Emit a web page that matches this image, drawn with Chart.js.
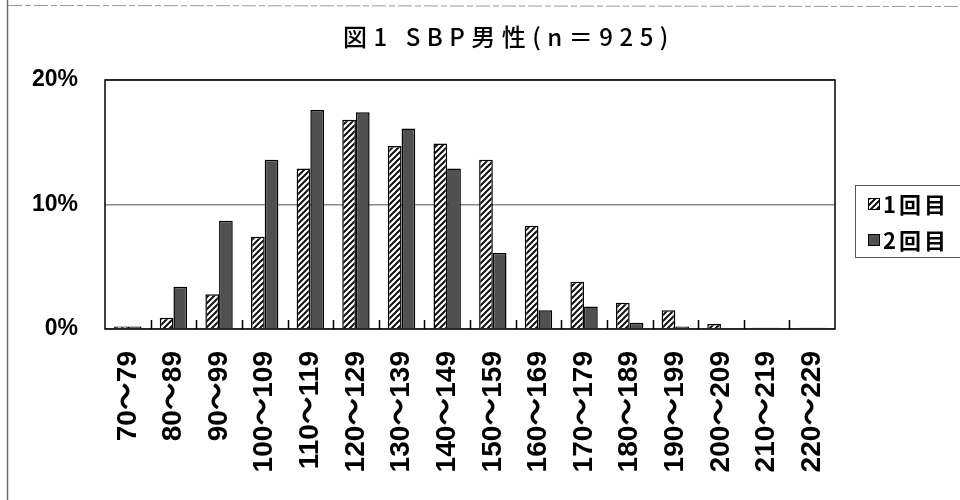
<!DOCTYPE html>
<html>
<head>
<meta charset="utf-8">
<script src="https://cdn.jsdelivr.net/npm/chart.js@4/dist/chart.umd.min.js"></script>
<style>
  html, body { margin: 0; padding: 0; background: #fff; }
  canvas { display: block; }
</style>
</head>
<body>
<canvas id="chart" width="960" height="500"></canvas>
<script>
// Systolic blood pressure distribution, men, first vs second measurement (%)
const chartTitle = '図1 SBP男性(n＝925)';
const categories = ['70〜79', '80〜89', '90〜99', '100〜109', '110〜119', '120〜129', '130〜139',
  '140〜149', '150〜159', '160〜169', '170〜179', '180〜189', '190〜199', '200〜209',
  '210〜219', '220〜229'];
const seriesNames = ['1回目', '2回目'];
const firstVisit = [0.2, 0.9, 2.8, 7.4, 12.9, 16.8, 14.7, 14.9, 13.6, 8.3, 3.8, 2.1, 1.5, 0.4, 0.1, 0.1];
const secondVisit = [0.2, 3.4, 8.7, 13.6, 17.6, 17.4, 16.1, 12.9, 6.1, 1.5, 1.8, 0.5, 0.2, 0.0, 0.1, 0.1];
const yTickValues = [0, 10, 20];

const canvas = document.getElementById('chart');
const ctx = canvas.getContext('2d');

// diagonal "///" hatch fill for the first measurement
function makeHatch(context) {
  const s = 6;
  const tile = document.createElement('canvas');
  tile.width = s; tile.height = s;
  const g = tile.getContext('2d');
  g.fillStyle = '#ffffff';
  g.fillRect(0, 0, s, s);
  g.strokeStyle = '#111111';
  g.lineWidth = 2;
  g.beginPath();
  g.moveTo(-1, s + 1); g.lineTo(s + 1, -1);
  g.moveTo(-s / 2 - 1, s / 2 + 1); g.lineTo(s / 2 + 1, -s / 2 - 1);
  g.moveTo(s / 2 - 1, s * 1.5 + 1); g.lineTo(s * 1.5 + 1, s / 2 - 1);
  g.stroke();
  return context.createPattern(tile, 'repeat');
}
const hatch = makeHatch(ctx);
const darkFill = '#505050';

const FONT_LATIN = '"Liberation Sans", "Noto Sans CJK JP", sans-serif';
const FONT_CJK = '"Noto Sans CJK JP", "Liberation Sans", sans-serif';

function withSpacing(c, px) {
  if ('letterSpacing' in c) c.letterSpacing = px + 'px';
}

// page frame, heading, plot border with inner tick marks, boxed legend
const decorations = {
  id: 'decorations',
  beforeDraw(chart) {
    const c = chart.ctx;
    c.save();
    c.strokeStyle = '#6e6e6e';
    c.lineWidth = 1.5;
    c.beginPath();
    c.moveTo(7.5, 0); c.lineTo(7.5, 500);
    c.stroke();
    c.setLineDash([14, 3, 6, 3]);
    c.strokeStyle = '#9a9a9a';
    c.lineWidth = 1;
    c.beginPath();
    c.moveTo(8, 5.5); c.lineTo(960, 6.5);
    c.stroke();
    c.restore();
  },
  afterDraw(chart) {
    const c = chart.ctx;
    const a = chart.chartArea;
    const xs = chart.scales.x;

    // heading
    c.save();
    c.fillStyle = '#000';
    c.font = '500 24px ' + FONT_CJK;
    c.textAlign = 'center';
    c.textBaseline = 'middle';
    withSpacing(c, 6.5);
    c.fillText(chartTitle, 509, 37);
    c.restore();

    // plot border
    c.save();
    c.strokeStyle = '#000';
    c.lineWidth = 1.5;
    c.strokeRect(a.left, a.top, a.right - a.left, a.bottom - a.top);
    // inward tick marks between categories
    c.beginPath();
    for (let i = 1; i < categories.length; i++) {
      const px = Math.round((xs.getPixelForValue(i - 1) + xs.getPixelForValue(i)) / 2) + 0.5;
      c.moveTo(px, a.bottom);
      c.lineTo(px, a.bottom - 9);
    }
    c.stroke();
    c.restore();

    // legend
    c.save();
    c.strokeStyle = '#555';
    c.lineWidth = 1;
    c.strokeRect(855.5, 185.5, 130, 72);
    const rows = [204, 240];
    chart.data.datasets.forEach((ds, i) => {
      const cy = rows[i];
      c.fillStyle = ds.backgroundColor;
      c.fillRect(868, cy - 6, 12, 12);
      c.strokeStyle = '#000';
      c.lineWidth = 1;
      c.strokeRect(868.5, cy - 5.5, 11, 11);
      c.fillStyle = '#000';
      c.font = 'bold 22px ' + FONT_CJK;
      c.textAlign = 'left';
      c.textBaseline = 'middle';
      withSpacing(c, 3);
      c.fillText(ds.label, 883, cy + 1);
      withSpacing(c, 0);
    });
    c.restore();
  }
};

new Chart(ctx, {
  type: 'bar',
  data: {
    labels: categories,
    datasets: [
      { label: seriesNames[0], data: firstVisit, backgroundColor: hatch,
        borderColor: '#000', borderWidth: 1.5 },
      { label: seriesNames[1], data: secondVisit, backgroundColor: darkFill,
        borderColor: '#000', borderWidth: 1.5 }
    ]
  },
  options: {
    responsive: false,
    animation: false,
    layout: { padding: { top: 80, right: 125, bottom: 0, left: 0 } },
    datasets: { bar: { categoryPercentage: 0.6, barPercentage: 1.0 } },
    plugins: {
      legend: { display: false },
      title: { display: false },
      tooltip: { enabled: false }
    },
    scales: {
      x: {
        grid: { display: false, drawTicks: false },
        border: { display: false },
        ticks: {
          autoSkip: false, minRotation: 90, maxRotation: 90, padding: 22,
          color: '#000',
          font: { family: FONT_LATIN, size: 28, weight: 'bold' }
        },
        afterFit(scale) { scale.height = 171; }
      },
      y: {
        min: 0, max: 20,
        grid: { color: '#8c8c8c', lineWidth: 1.5, drawTicks: false },
        border: { display: false },
        afterBuildTicks(scale) { scale.ticks = yTickValues.map(v => ({ value: v })); },
        ticks: {
          padding: 27, color: '#000',
          font: { family: FONT_LATIN, size: 23, weight: 'bold' },
          callback: v => v + '%'
        },
        afterFit(scale) { scale.width = 105; }
      }
    }
  },
  plugins: [decorations]
});
</script>
</body>
</html>
